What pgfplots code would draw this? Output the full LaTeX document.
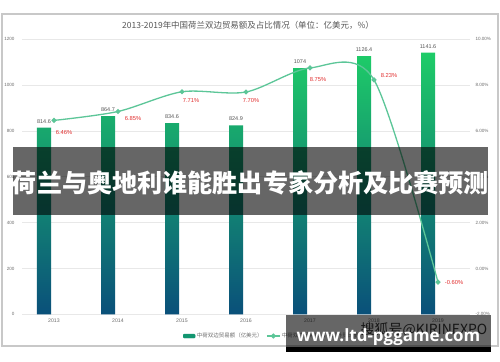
\documentclass[border=0pt]{standalone}
\usepackage{pgfplots}
\pgfplotsset{compat=1.18}
\usepackage{fontspec}
\setmainfont{Liberation Sans}
\newfontfamily\cjk{Noto Sans CJK SC}
\newfontfamily\osans{Open Sans}
\definecolor{barTop}{RGB}{30,204,104}
\definecolor{barMid}{RGB}{18,150,112}
\definecolor{barBot}{RGB}{10,80,122}
\definecolor{lineC}{RGB}{92,198,152}
\definecolor{labRed}{RGB}{226,48,48}
\definecolor{txtGray}{RGB}{85,85,85}
\definecolor{tickGray}{RGB}{110,110,110}
\definecolor{gridC}{RGB}{232,232,232}
\definecolor{frameC}{RGB}{200,200,200}
\pgfplotstableread{
x y lab
0 814.6 814.6
1 864.7 864.7
2 834.6 834.6
3 824.9 824.9
4 1074 1074
5 1126.4 1126.4
6 1141.6 1141.6
}\bardata
\pgfplotstableread{
x y lab dx dy
0 6.46 6.46 10 -12
1 6.85 6.85 15 -7
2 7.71 7.71 9 -9
3 7.70 7.70 5 -9
4 8.75 8.75 8 -12
5 8.23 8.23 15 4
6 -0.60 -0.60 16 0
}\linedata
\begin{document}
\begin{tikzpicture}
\useasboundingbox (0,0) rectangle (500bp,362bp);
\fill[white] (0,0) rectangle (500bp,362bp);
\draw[frameC, line width=1.5bp] (2bp,16bp) rectangle (498bp,348bp);
\node[font=\cjk\fontsize{8.5}{10}\selectfont, text=txtGray] at (248bp,337bp) {2013-2019年中国荷兰双边贸易额及占比情况（单位：亿美元，\%）};
\begin{axis}[
  at={(22bp,47.7bp)}, anchor=south west, scale only axis,
  width=448bp, height=275bp,
  xmin=-0.5, xmax=6.5, ymin=0, ymax=1200,
  ytick={0,200,...,1200},
  xtick={0,...,6}, xticklabels={2013,2014,2015,2016,2017,2018,2019},
  axis line style={draw=none}, major tick length=0pt,
  ymajorgrids, grid style={gridC, line width=0.6bp},
  tick label style={font=\fontsize{4.6}{5}\selectfont, text=tickGray},
  xticklabel style={font=\fontsize{5.2}{6}\selectfont, yshift=-1bp},
  yticklabel style={xshift=-4bp},
  /pgf/number format/1000 sep={},
  /pgf/number format/assume math mode=true,
  ybar, bar width=14bp, bar shift=-10bp,
  nodes near coords={\pgfplotspointmeta},
  point meta=explicit symbolic,
  every node near coord/.append style={font=\fontsize{5.5}{6}\selectfont, text=txtGray, yshift=1bp},
]
\addplot[draw=none, top color=barTop, middle color=barMid, bottom color=barBot] table[x=x, y=y, meta=lab] {\bardata};
\end{axis}
\begin{axis}[
  at={(22bp,47.7bp)}, anchor=south west, scale only axis,
  width=448bp, height=275bp,
  xmin=-0.5, xmax=6.5, ymin=-2, ymax=10,
  ytick={-2,0,...,10},
  axis y line*=right, hide x axis,
  axis line style={draw=none}, major tick length=0pt,
  tick label style={font=\fontsize{4.6}{5}\selectfont, text=tickGray},
  yticklabel={\pgfmathprintnumber[fixed,fixed zerofill,precision=2]{\tick}\%},
  yticklabel style={xshift=2bp},
  /pgf/number format/assume math mode=true,
  legend style={at={(0.359,-0.079)}, anchor=west, draw=none, fill=none,
    legend columns=2, font=\cjk\fontsize{5.5}{6}\selectfont, text=tickGray,
    inner sep=0pt, nodes={inner sep=1.5bp},
    /tikz/every even column/.append style={column sep=2bp}},
]
\addlegendimage{legend image code/.code={\fill[barMid, rounded corners=1bp] (0bp,-2bp) rectangle (12bp,2bp);}}
\addlegendentry{中荷双边贸易额（亿美元）}
\addplot[lineC, line width=1.3bp, smooth, tension=0.5, mark=*, mark size=1.8bp,
  mark options={fill=lineC, draw=lineC},
  legend image code/.code={\draw[lineC, line width=1.3bp] (0bp,0bp) -- (13bp,0bp); \fill[lineC] (6.5bp,0bp) circle (1.8bp);},
  nodes near coords={\pgfplotspointmeta\%},
  point meta=explicit symbolic,
  visualization depends on={\thisrow{dx}\as\dx},
  visualization depends on={\thisrow{dy}\as\dy},
  every node near coord/.append style={font=\fontsize{5.8}{6}\selectfont, text=labRed, anchor=center, xshift=\dx bp, yshift=\dy bp},
] table[x=x, y=y, meta=lab] {\linedata};
\addlegendentry{中荷双边贸易额占中国外贸比重}
\end{axis}
% overlay banner
\fill[black, opacity=0.6] (13bp,147bp) rectangle (488bp,215bp);
\node[font=\cjk\bfseries\fontsize{25.2}{26}\selectfont, text=white] at (250.5bp,179.5bp) {荷兰与奥地利谁能胜出专家分析及比赛预测};
% watermark
\node[font=\cjk\fontsize{14}{15}\selectfont, text={rgb,255:red,55;green,55;blue,55}] at (424bp,32bp) {搜狐号@KIRINEXPO};
\fill[black, opacity=0.6] (286bp,15bp) rectangle (491bp,47bp);
\fill[black] (286bp,10bp) rectangle (491bp,15bp);
\node[font=\osans\bfseries\fontsize{17}{18}\selectfont, text=white] at (388.5bp,25bp) {www.ltd-pggame.com};
\end{tikzpicture}
\end{document}
